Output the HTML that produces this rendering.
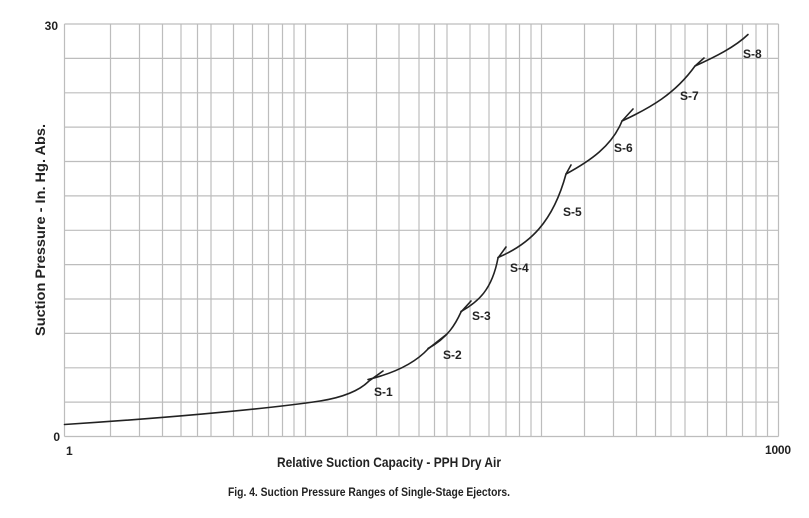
<!DOCTYPE html>
<html><head><meta charset="utf-8"><style>
body{margin:0;background:#fff;}
svg{display:block;font-family:"Liberation Sans",Arial,sans-serif;}
</style></head><body>
<svg width="809" height="518" viewBox="0 0 809 518" xmlns="http://www.w3.org/2000/svg">
<rect width="809" height="518" fill="#fff"/>
<g stroke="#bdbdbd" stroke-width="1.2" fill="none">
<path d="M64.5 24V436.5M110.5 24V436.5M139.5 24V436.5M162.5 24V436.5M181 24V436.5M197.5 24V436.5M211 24V436.5M233.5 24V436.5M252.5 24V436.5M268.5 24V436.5M282.5 24V436.5M294 24V436.5M305.5 24V436.5M347.5 24V436.5M376.5 24V436.5M399 24V436.5M419 24V436.5M434.5 24V436.5M447 24V436.5M470 24V436.5M489 24V436.5M506 24V436.5M519.5 24V436.5M531 24V436.5M541.5 24V436.5M584.5 24V436.5M613.5 24V436.5M636.5 24V436.5M655.5 24V436.5M671 24V436.5M685 24V436.5M707.5 24V436.5M726.5 24V436.5M742.5 24V436.5M756 24V436.5M767.5 24V436.5M778.5 24V436.5"/>
<path d="M64.5 24H778.5M64.5 58.4H778.5M64.5 92.8H778.5M64.5 127.1H778.5M64.5 161.5H778.5M64.5 195.9H778.5M64.5 230.3H778.5M64.5 264.6H778.5M64.5 299H778.5M64.5 333.4H778.5M64.5 367.8H778.5M64.5 402.1H778.5M64.5 436.5H778.5"/>
</g>
<g stroke="#222" stroke-width="1.6" fill="none" stroke-linecap="round">
<path d="M64.5 424.5 C150 419 260 410 320 401 C345 397 360 390 369 381 L383 371"/>
<path d="M368 379.5 C395 373 415 363 428 349 L447 334"/>
<path d="M428 348.5 C448 338 456 323 461 312 L471 301"/>
<path d="M461 311.5 C478 302 492 290 498 258 L506 247"/>
<path d="M498 257.5 C530 244 553 222 566 174 L571 165"/>
<path d="M566 174 C590 161 612 146 622 121 L633 109"/>
<path d="M622 121 C650 108 675 94 695 66 L704 58"/>
<path d="M695 66 C715 57 735 47 748 34.5"/>
</g>
<g font-weight="bold" font-size="12" fill="#222">
<text x="374" y="396">S-1</text>
<text x="443" y="359">S-2</text>
<text x="472" y="320">S-3</text>
<text x="510" y="272">S-4</text>
<text x="563" y="216">S-5</text>
<text x="614" y="152">S-6</text>
<text x="680" y="100">S-7</text>
<text x="743" y="58">S-8</text>
</g>
<g font-weight="bold" font-size="12" fill="#222">
<text x="58" y="30" text-anchor="end">30</text>
<text x="60" y="441" text-anchor="end">0</text>
<text x="66" y="455">1</text>
<text x="765" y="454" textLength="26">1000</text>
</g>
<text x="277" y="467" font-weight="bold" font-size="14" fill="#222" textLength="224" lengthAdjust="spacingAndGlyphs">Relative Suction Capacity - PPH Dry Air</text>
<text x="228" y="496" font-weight="bold" font-size="12" fill="#222" textLength="282" lengthAdjust="spacingAndGlyphs">Fig. 4. Suction Pressure Ranges of Single-Stage Ejectors.</text>
<text transform="translate(45,230) rotate(-90)" text-anchor="middle" font-weight="bold" font-size="14" fill="#222" textLength="212" lengthAdjust="spacingAndGlyphs">Suction Pressure - In. Hg. Abs.</text>
</svg>
</body></html>
